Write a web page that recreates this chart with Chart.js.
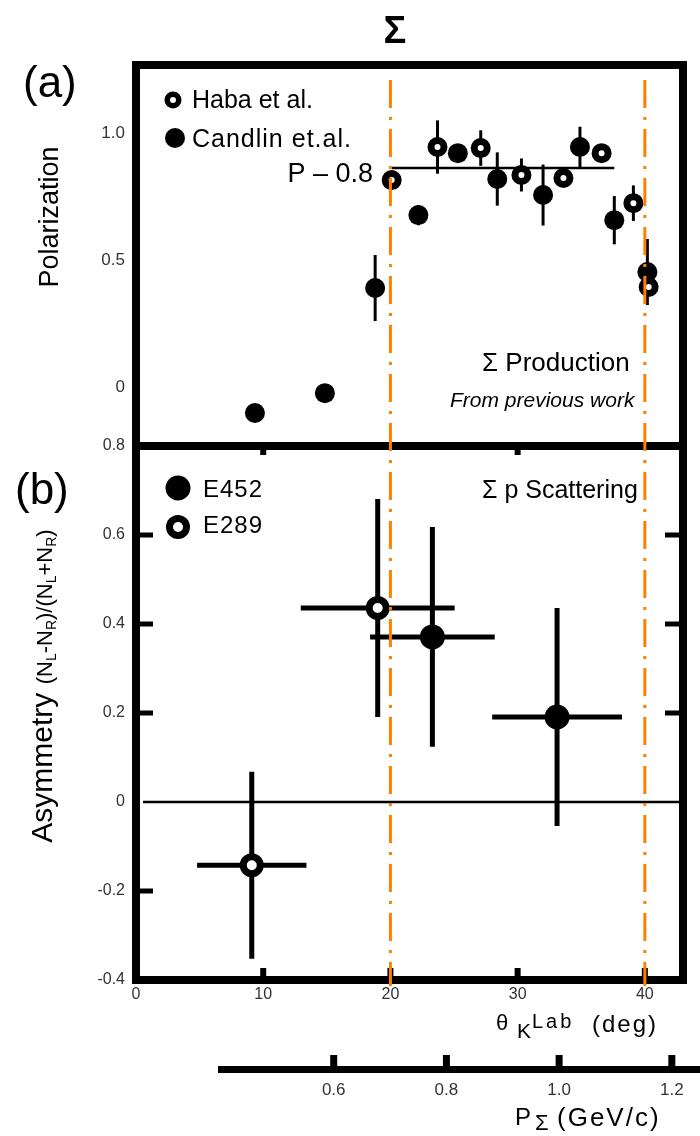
<!DOCTYPE html>
<html>
<head>
<meta charset="utf-8">
<script src="https://cdn.jsdelivr.net/npm/chart.js@4.4.1/dist/chart.umd.min.js"></script>
<style>
  html, body { margin: 0; padding: 0; background: #fff; }
  #wrap { position: relative; width: 700px; height: 1136px; overflow: hidden; background: #fff; }
  canvas { position: absolute; left: 0; top: 0; }
</style>
</head>
<body>
<div id="wrap">
  <canvas id="cA" width="700" height="1136"></canvas>
  <canvas id="cB" width="700" height="1136"></canvas>
  <canvas id="cC" width="700" height="1136"></canvas>
</div>
<script>
// ---------- DATA ----------
// Panel (a): Sigma production polarization vs theta_K(lab) [deg]
const habaAngle   = [20.1, 23.7, 27.1, 30.3, 33.6, 36.6, 39.1, 40.3];
const habaPol     = [0.815, 0.945, 0.941, 0.835, 0.823, 0.921, 0.724, 0.394];
const habaPolErr  = [0.02, 0.105, 0.07, 0.065, 0.02, 0.02, 0.07, 0.02];

const candlinAngle  = [9.35, 14.85, 18.8, 22.2, 25.3, 28.4, 32.0, 34.9, 37.6, 40.2];
const candlinPol    = [-0.102, -0.024, 0.39, 0.677, 0.921, 0.819, 0.756, 0.945, 0.657, 0.453];
const candlinPolErr = [0, 0, 0.13, 0.04, 0.03, 0.105, 0.12, 0.08, 0.095, 0.13];

const fitAngleRange = [20.1, 37.6];
const fitPol = 0.862;

// Panel (b): Sigma p scattering asymmetry
const e452Angle    = [23.3, 33.1];
const e452AngleErr = [4.9, 5.1];
const e452Asym     = [0.371, 0.191];
const e452AsymErr  = [0.247, 0.245];

const e289Angle    = [9.1, 19.0];
const e289AngleErr = [4.3, 6.05];
const e289Asym     = [-0.142, 0.436];
const e289AsymErr  = [0.21, 0.245];

// vertical orange guide lines (deg)
const guideAngles = [20, 40];

// ticks
const aYTicks  = [1.0, 0.5, 0];
const aYLabels = ['1.0', '0.5', '0'];
const bYTicks  = [0.8, 0.6, 0.4, 0.2, 0, -0.2, -0.4];
const bYLabels = ['0.8', '0.6', '0.4', '0.2', '0', '-0.2', '-0.4'];
const bYTickMarksLeft  = [0.6, 0.4, 0.2, -0.2];
const bYTickMarksRight = [0.6, 0.4, 0.2];
const xTicks   = [0, 10, 20, 30, 40];
const xLabels  = ['0', '10', '20', '30', '40'];
const xTickMarksBottom = [10, 20, 30, 40];
const xTickMarksTop    = [10, 30];
const pTicks   = [0.6, 0.8, 1.0, 1.2];
const pLabels  = ['0.6', '0.8', '1.0', '1.2'];

// ---------- HELPERS ----------
const FAM = "'Liberation Sans', Arial, sans-serif";
function fnt(s) { return (s.italic ? 'italic ' : '') + (s.bold ? 'bold ' : '') + s.size + 'px ' + FAM; }
function rich(ctx, x, y, segs, align) {
  let total = 0;
  segs.forEach(s => { ctx.font = fnt(s); ctx.letterSpacing = s.ls || '0px'; s.w = ctx.measureText(s.t).width; total += s.w; });
  let cx = align === 'center' ? x - total / 2 : (align === 'right' ? x - total : x);
  ctx.textAlign = 'left'; ctx.textBaseline = 'alphabetic';
  segs.forEach(s => { ctx.font = fnt(s); ctx.letterSpacing = s.ls || '0px'; ctx.fillText(s.t, cx, y + (s.dy || 0)); cx += s.w; });
  ctx.letterSpacing = '0px';
}
function pts(xs, ys) { return xs.map((x, i) => ({ x: x, y: ys[i] })); }

const errorBars = {
  id: 'errorBars',
  beforeDatasetsDraw(chart) {
    const { ctx, scales: { x, y } } = chart;
    chart.data.datasets.forEach(ds => {
      if (!ds.errY && !ds.errX) return;
      ctx.save();
      ctx.strokeStyle = '#000';
      ctx.lineWidth = ds.errWidth || 3;
      ds.data.forEach((p, j) => {
        const px = x.getPixelForValue(p.x), py = y.getPixelForValue(p.y);
        if (ds.errY && ds.errY[j]) {
          ctx.beginPath();
          ctx.moveTo(px, y.getPixelForValue(p.y - ds.errY[j]));
          ctx.lineTo(px, y.getPixelForValue(p.y + ds.errY[j]));
          ctx.stroke();
        }
        if (ds.errX && ds.errX[j]) {
          ctx.beginPath();
          ctx.moveTo(x.getPixelForValue(p.x - ds.errX[j]), py);
          ctx.lineTo(x.getPixelForValue(p.x + ds.errX[j]), py);
          ctx.stroke();
        }
      });
      ctx.restore();
    });
  }
};

function frame(ctx, a) {
  ctx.save();
  ctx.strokeStyle = '#000';
  ctx.lineWidth = 8;
  ctx.strokeRect(a.left, a.top, a.right - a.left, a.bottom - a.top);
  ctx.restore();
}
function openMarker(ctx, x, y, rOut, rIn) {
  ctx.save();
  ctx.fillStyle = '#000';
  ctx.beginPath(); ctx.arc(x, y, rOut, 0, Math.PI * 2); ctx.fill();
  ctx.fillStyle = '#fff';
  ctx.beginPath(); ctx.arc(x, y, rIn, 0, Math.PI * 2); ctx.fill();
  ctx.restore();
}
function filledMarker(ctx, x, y, r) {
  ctx.save();
  ctx.fillStyle = '#000';
  ctx.beginPath(); ctx.arc(x, y, r, 0, Math.PI * 2); ctx.fill();
  ctx.restore();
}

const tickFont = { family: FAM, size: 17 };
const tickColor = '#333';

// ---------- PANEL (a) ----------
const panelA = {
  id: 'panelA',
  beforeDatasetsDraw(chart) {
    frame(chart.ctx, chart.chartArea);
  },
  afterDraw(chart) {
    const ctx = chart.ctx;
    ctx.save();
    ctx.fillStyle = '#000';
    rich(ctx, 395, 43, [{ t: 'Σ', size: 38, bold: true }], 'center');
    rich(ctx, 23, 97, [{ t: '(a)', size: 44 }], 'left');
    // legend
    openMarker(ctx, 173, 100, 8.5, 3);
    rich(ctx, 192, 108, [{ t: 'Haba et al.', size: 25 }], 'left');
    filledMarker(ctx, 175, 138, 10);
    rich(ctx, 192, 147, [{ t: 'Candlin et.al.', size: 25, ls: '1px' }], 'left');
    rich(ctx, 373, 182, [{ t: 'P – 0.8', size: 27 }], 'right');
    rich(ctx, 482, 371, [{ t: 'Σ Production', size: 26 }], 'left');
    rich(ctx, 450, 407, [{ t: 'From previous work', size: 21, italic: true }], 'left');
    // y title
    ctx.translate(58, 217);
    ctx.rotate(-Math.PI / 2);
    rich(ctx, 0, 0, [{ t: 'Polarization', size: 27 }], 'center');
    ctx.restore();
  }
};

new Chart(document.getElementById('cA'), {
  type: 'scatter',
  data: {
    datasets: [
      {
        type: 'line', label: 'P fit',
        data: [{ x: fitAngleRange[0], y: fitPol }, { x: fitAngleRange[1], y: fitPol }],
        borderColor: '#000', borderWidth: 2.5, pointRadius: 0, fill: false
      },
      {
        label: 'Candlin et.al.', data: pts(candlinAngle, candlinPol), errY: candlinPolErr, errWidth: 3,
        pointStyle: 'circle', pointRadius: 10, backgroundColor: '#000', borderColor: '#000', borderWidth: 0
      },
      {
        label: 'Haba et al.', data: pts(habaAngle, habaPol), errY: habaPolErr, errWidth: 3,
        pointStyle: 'circle', pointRadius: 6.5, backgroundColor: '#fff', borderColor: '#000', borderWidth: 7
      }
    ]
  },
  options: {
    responsive: false, animation: false, devicePixelRatio: 1,
    layout: { padding: { left: 0, top: 65, right: 17, bottom: 1136 - 446 } },
    plugins: { legend: { display: false }, tooltip: { enabled: false }, title: { display: false } },
    scales: {
      x: { type: 'linear', min: 0, max: 43, display: false },
      y: {
        type: 'linear', min: -0.232, max: 1.268,
        afterFit(s) { s.width = 136; },
        afterBuildTicks(s) { s.ticks = aYTicks.map(v => ({ value: v })); },
        ticks: { callback: (v, i) => aYLabels[i], font: tickFont, color: tickColor, padding: 11 },
        grid: { display: false, drawTicks: false },
        border: { display: false }
      }
    }
  },
  plugins: [errorBars, panelA]
});

// ---------- PANEL (b) ----------
const panelB = {
  id: 'panelB',
  beforeDatasetsDraw(chart) {
    const { ctx, chartArea: a, scales: { x, y } } = chart;
    frame(ctx, a);
    ctx.save();
    ctx.strokeStyle = '#000';
    ctx.lineWidth = 5;
    bYTickMarksLeft.forEach(v => { const py = y.getPixelForValue(v); ctx.beginPath(); ctx.moveTo(a.left, py); ctx.lineTo(a.left + 17, py); ctx.stroke(); });
    bYTickMarksRight.forEach(v => { const py = y.getPixelForValue(v); ctx.beginPath(); ctx.moveTo(a.right, py); ctx.lineTo(a.right - 18, py); ctx.stroke(); });
    ctx.lineWidth = 6;
    xTickMarksBottom.forEach(v => { const px = x.getPixelForValue(v); ctx.beginPath(); ctx.moveTo(px, a.bottom); ctx.lineTo(px, a.bottom - 12); ctx.stroke(); });
    xTickMarksTop.forEach(v => { const px = x.getPixelForValue(v); ctx.beginPath(); ctx.moveTo(px, a.top); ctx.lineTo(px, a.top + 9); ctx.stroke(); });
    ctx.restore();
  },
  afterDraw(chart) {
    const { ctx, scales: { x } } = chart;
    ctx.save();
    ctx.fillStyle = '#000';
    rich(ctx, 15, 504, [{ t: '(b)', size: 44 }], 'left');
    filledMarker(ctx, 178, 488, 12.5);
    rich(ctx, 203, 497, [{ t: 'E452', size: 24, ls: '1px' }], 'left');
    openMarker(ctx, 178, 527, 12, 5);
    rich(ctx, 203, 533, [{ t: 'E289', size: 24, ls: '1px' }], 'left');
    rich(ctx, 482, 498, [{ t: 'Σ p Scattering', size: 25 }], 'left');
    // x title
    rich(ctx, 496, 1030, [{ t: 'θ', size: 22 }], 'left');
    rich(ctx, 517, 1038, [{ t: 'K', size: 21 }], 'left');
    rich(ctx, 532, 1028, [{ t: 'Lab', size: 20, ls: '3px' }], 'left');
    rich(ctx, 592, 1032, [{ t: '(deg)', size: 24, ls: '2px' }], 'left');
    // y title
    ctx.save();
    ctx.translate(52, 686);
    ctx.rotate(-Math.PI / 2);
    rich(ctx, 0, 0, [
      { t: 'Asymmetry ', size: 30 },
      { t: '(N', size: 22 }, { t: 'L', size: 14, dy: 4 }, { t: '-N', size: 22 }, { t: 'R', size: 14, dy: 4 },
      { t: ')/(N', size: 22 }, { t: 'L', size: 14, dy: 4 }, { t: '+N', size: 22 }, { t: 'R', size: 14, dy: 4 },
      { t: ')', size: 22 }
    ], 'center');
    ctx.restore();
    // orange dash-dot guide lines
    ctx.strokeStyle = '#ff8000';
    ctx.lineWidth = 3;
    ctx.setLineDash([28, 9, 3, 9]);
    guideAngles.forEach(v => {
      const px = x.getPixelForValue(v);
      ctx.beginPath(); ctx.moveTo(px, 80); ctx.lineTo(px, 986); ctx.stroke();
    });
    ctx.restore();
  }
};

new Chart(document.getElementById('cB'), {
  type: 'scatter',
  data: {
    datasets: [
      {
        type: 'line', label: 'zero',
        data: [{ x: 0.55, y: 0 }, { x: 43, y: 0 }],
        borderColor: '#000', borderWidth: 2.5, pointRadius: 0, fill: false
      },
      {
        label: 'E289', data: pts(e289Angle, e289Asym), errY: e289AsymErr, errX: e289AngleErr, errWidth: 5,
        pointStyle: 'circle', pointRadius: 8.5, backgroundColor: '#fff', borderColor: '#000', borderWidth: 7
      },
      {
        label: 'E452', data: pts(e452Angle, e452Asym), errY: e452AsymErr, errX: e452AngleErr, errWidth: 5,
        pointStyle: 'circle', pointRadius: 12.5, backgroundColor: '#000', borderColor: '#000', borderWidth: 0
      }
    ]
  },
  options: {
    responsive: false, animation: false, devicePixelRatio: 1,
    layout: { padding: { left: 0, top: 446, right: 17, bottom: 1136 - 980 - 30 } },
    plugins: { legend: { display: false }, tooltip: { enabled: false }, title: { display: false } },
    scales: {
      x: {
        type: 'linear', min: 0, max: 43, position: 'bottom',
        afterFit(s) { s.height = 30; },
        afterBuildTicks(s) { s.ticks = xTicks.map(v => ({ value: v })); },
        ticks: { callback: (v, i) => xLabels[i], font: { family: FAM, size: 16 }, color: tickColor, padding: 5, maxRotation: 0 },
        grid: { display: false, drawTicks: false },
        border: { display: false }
      },
      y: {
        type: 'linear', min: -0.4, max: 0.8,
        afterFit(s) { s.width = 136; },
        afterBuildTicks(s) { s.ticks = bYTicks.map(v => ({ value: v })); },
        ticks: { callback: (v, i) => bYLabels[i], font: { family: FAM, size: 16 }, color: tickColor, padding: 11 },
        grid: { display: false, drawTicks: false },
        border: { display: false }
      }
    }
  },
  plugins: [errorBars, panelB]
});

// ---------- MOMENTUM AXIS ----------
const panelC = {
  id: 'panelC',
  afterDraw(chart) {
    const { ctx, chartArea: a, scales: { x } } = chart;
    ctx.save();
    ctx.strokeStyle = '#000';
    ctx.lineWidth = 7;
    pTicks.forEach(v => { const px = x.getPixelForValue(v); ctx.beginPath(); ctx.moveTo(px, a.bottom); ctx.lineTo(px, a.bottom - 14); ctx.stroke(); });
    ctx.fillStyle = '#000';
    rich(ctx, 515, 1125, [{ t: 'P', size: 24 }], 'left');
    rich(ctx, 535, 1130, [{ t: 'Σ', size: 22 }], 'left');
    rich(ctx, 557, 1126, [{ t: '(GeV/c)', size: 26, ls: '2px' }], 'left');
    ctx.restore();
  }
};

new Chart(document.getElementById('cC'), {
  type: 'scatter',
  data: { datasets: [{ label: 'p', data: [] }] },
  options: {
    responsive: false, animation: false, devicePixelRatio: 1,
    layout: { padding: { left: 221, top: 1040, right: 0, bottom: 1136 - 1069 - 40 } },
    plugins: { legend: { display: false }, tooltip: { enabled: false } },
    scales: {
      x: {
        type: 'linear', min: 0.4, max: 1.25, position: 'bottom',
        afterFit(s) { s.height = 40; },
        afterBuildTicks(s) { s.ticks = pTicks.map(v => ({ value: v })); },
        ticks: { callback: (v, i) => pLabels[i], font: { family: FAM, size: 17 }, color: tickColor, padding: 11, maxRotation: 0 },
        grid: { display: false, drawTicks: false },
        border: { display: true, width: 7, color: '#000' }
      },
      y: { display: false, min: 0, max: 1 }
    }
  },
  plugins: [panelC]
});
</script>
</body>
</html>
